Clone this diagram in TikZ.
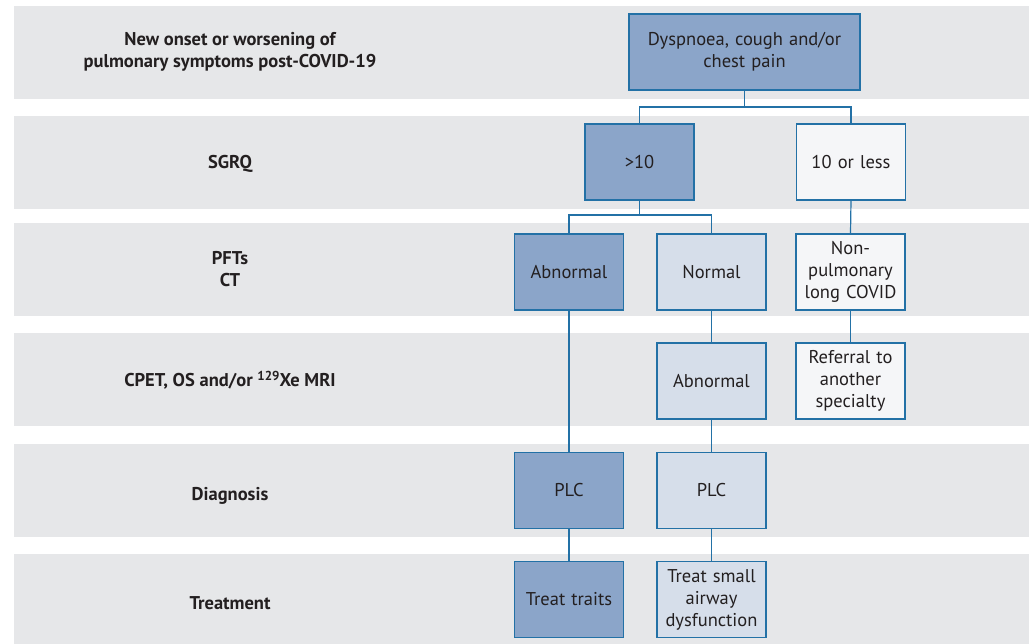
\documentclass[tikz,border=0pt]{standalone}
\usepackage{fontspec}
\setmainfont{PT Sans}
\definecolor{band}{HTML}{E6E7E9}
\definecolor{dark}{HTML}{8BA5C9}
\definecolor{light}{HTML}{D6DEEA}
\definecolor{pale}{HTML}{F5F6F8}
\definecolor{edge}{HTML}{2371A6}
\definecolor{txt}{HTML}{231F20}
\begin{document}
\begin{tikzpicture}[x=1pt,y=-1pt,
  box/.style={draw=edge,line width=1.4pt,rectangle,minimum height=76pt,text width=#1,minimum width=#1,inner sep=0pt,align=center,font=\fontsize{18.5}{22}\selectfont,text=txt},
  box/.default=109pt,
  darkbox/.style={box=#1,fill=dark},
  darkbox/.default=109pt,
  lightbox/.style={box,fill=light},
  palebox/.style={box,fill=pale},
  rowlabel/.style={align=center,font=\bfseries\fontsize{18.5}{22}\selectfont,text=txt},
  link/.style={draw=edge,line width=1.2pt}]
\useasboundingbox (0,0) rectangle (1029,644);
% bands
\fill[band] (14,6) rectangle (1029,99);
\fill[band] (14,116) rectangle (1029,209);
\fill[band] (14,223) rectangle (1029,316);
\fill[band] (14,333) rectangle (1029,426);
\fill[band] (14,444) rectangle (1029,537);
\fill[band] (14,554) rectangle (1029,644);
% row labels
\node[rowlabel] (l1) at (230,52) {New onset or worsening of\\pulmonary symptoms post-COVID-19};
\node[rowlabel] (l2) at (230,164) {SGRQ};
\node[rowlabel] (l3) at (230,269) {PFTs\\CT};
\node[rowlabel] (l4) at (230,380) {CPET, OS and/or {\fontsize{13}{13}\selectfont\raisebox{0.45em}{129}}Xe MRI};
\node[rowlabel] (l5) at (230,496) {Diagnosis};
\node[rowlabel] (l6) at (230,603) {Treatment};
% boxes
\node[darkbox=231pt] (top) at (744.5,52) {Dyspnoea, cough and/or\\chest pain};
\node[darkbox] (g10) at (639.5,162) {\textgreater10};
\node[palebox] (le10) at (851,162) {10 or less};
\node[darkbox] (abn1) at (569,272) {Abnormal};
\node[lightbox] (norm) at (711.5,272) {Normal};
\node[palebox] (nonp) at (850.5,272) {Non-\\pulmonary\\long COVID};
\node[lightbox] (abn2) at (711.5,381) {Abnormal};
\node[palebox] (ref) at (850.5,381) {Referral to\\another\\specialty};
\node[darkbox] (plc1) at (569,490.5) {PLC};
\node[lightbox] (plc2) at (711.5,490.5) {PLC};
\node[darkbox] (tr1) at (569,599.5) {Treat traits};
\node[lightbox] (tr2) at (711.5,599.5) {Treat small\\airway\\dysfunction};
% connectors
\coordinate (j1) at (744.5,107);
\coordinate (j2) at (639.5,215);
\draw[link] (top.south) -- (j1);
\draw[link] (g10.north) |- (j1) -| (le10.north);
\draw[link] (g10.south) -- (j2);
\draw[link] (abn1.north) |- (j2) -| (norm.north);
\draw[link] (le10.south) -- (nonp.north);
\draw[link] (nonp.south) -- (ref.north);
\draw[link] (abn1.south) -- (plc1.north);
\draw[link] (norm.south) -- (abn2.north);
\draw[link] (abn2.south) -- (plc2.north);
\draw[link] (plc1.south) -- (tr1.north);
\draw[link] (plc2.south) -- (tr2.north);
\end{tikzpicture}
\end{document}
